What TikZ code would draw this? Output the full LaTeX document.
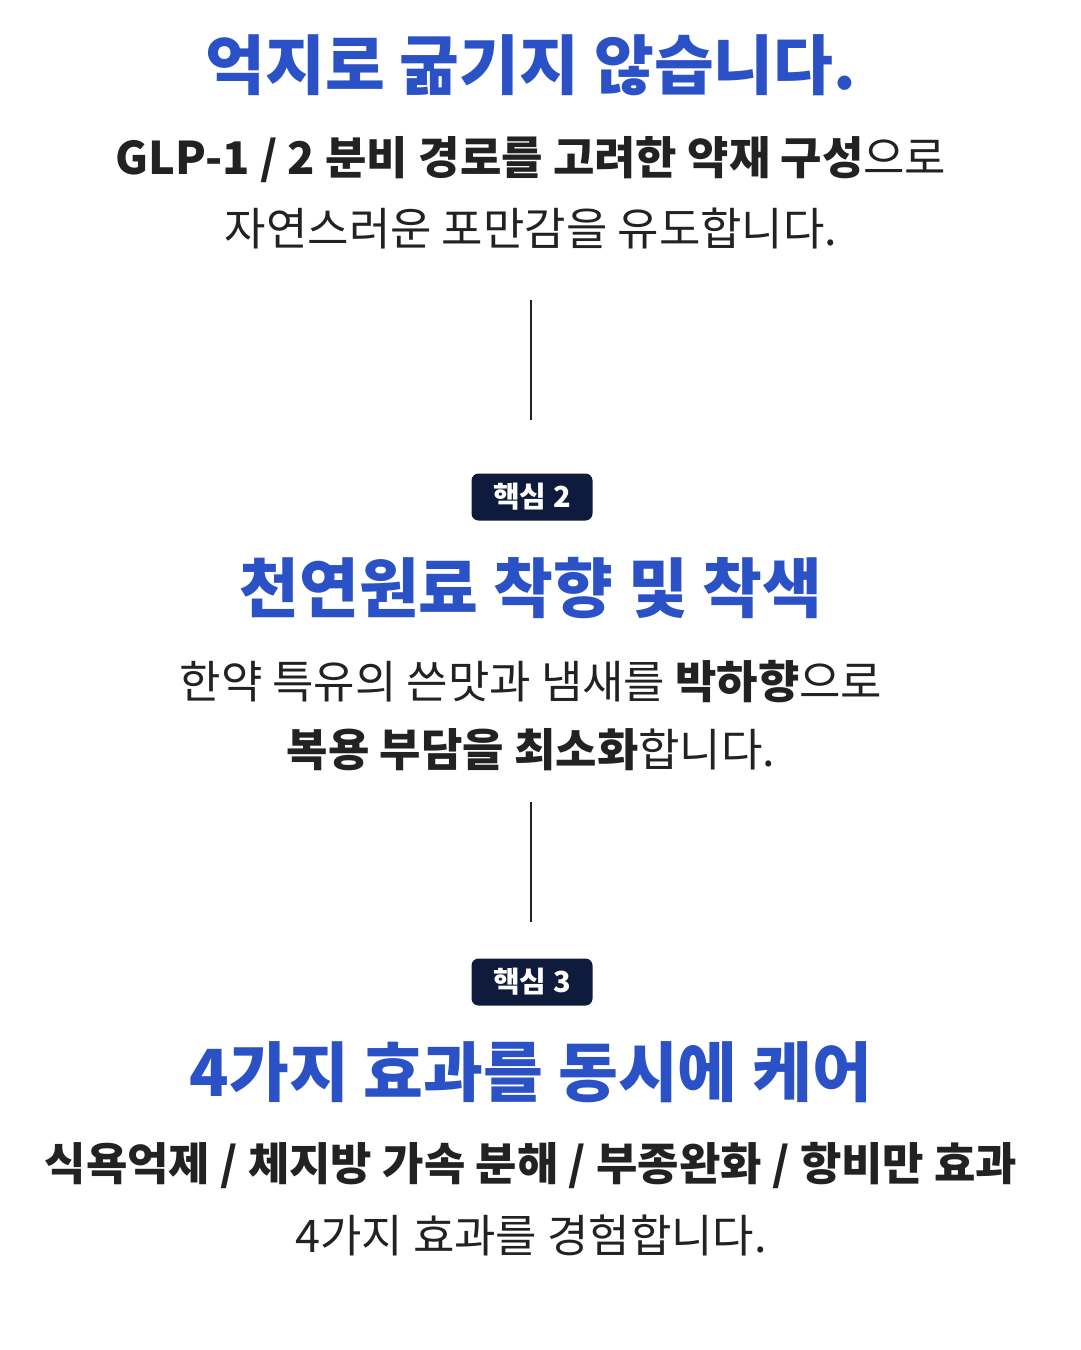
\documentclass[tikz,border=0pt]{standalone}
\usepackage{fontspec}
\setmainfont{Noto Sans CJK KR}
\definecolor{tblue}{HTML}{2A52C6}
\definecolor{tdark}{HTML}{222222}
\definecolor{navy}{HTML}{0E1B3D}
\begin{document}
\begin{tikzpicture}[x=1pt,y=-1pt,
  title/.style={text=tblue,font=\fontsize{65}{70}\selectfont\bfseries,anchor=center,inner sep=0},
  body/.style={text=tdark,font=\fontsize{45}{50}\selectfont,anchor=center,inner sep=0},
  badge/.style={fill=navy,text=white,rounded corners=7pt,minimum width=121pt,minimum height=47pt,font=\fontsize{29}{32}\selectfont\bfseries,inner sep=0},
  vline/.style={draw=tdark,line width=1.3pt}]
\useasboundingbox (0,0) rectangle (1080,1350);
\fill[white] (0,0) rectangle (1080,1350);
\node[title] (t1) at (531,65) {억지로 굶기지 않습니다.};
\node[body] (b1a) at (531,160) {\textbf{GLP-1 / 2 분비 경로를 고려한 약재 구성}으로};
\node[body] (b1b) at (531,228) {자연스러운 포만감을 유도합니다.};
\coordinate (l1a) at (531,300); \coordinate (l1b) at (531,420);
\draw[vline] (l1a) -- (l1b);
\node[badge] (k2) at (532,497) {핵심 2};
\node[title] (t2) at (531,588) {천연원료 착향 및 착색};
\node[body] (b2a) at (531,682) {한약 특유의 쓴맛과 냄새를 \textbf{박하향}으로};
\node[body] (b2b) at (531,750) {\textbf{복용 부담을 최소화}합니다.};
\coordinate (l2a) at (531,802); \coordinate (l2b) at (531,922);
\draw[vline] (l2a) -- (l2b);
\node[badge] (k3) at (532,982) {핵심 3};
\node[title] (t3) at (531,1072) {4가지 효과를 동시에 케어};
\node[body] (b3a) at (531,1165) {\textbf{식욕억제 / 체지방 가속 분해 / 부종완화 / 항비만 효과}};
\node[body] (b3b) at (531,1235) {4가지 효과를 경험합니다.};
\end{tikzpicture}
\end{document}
